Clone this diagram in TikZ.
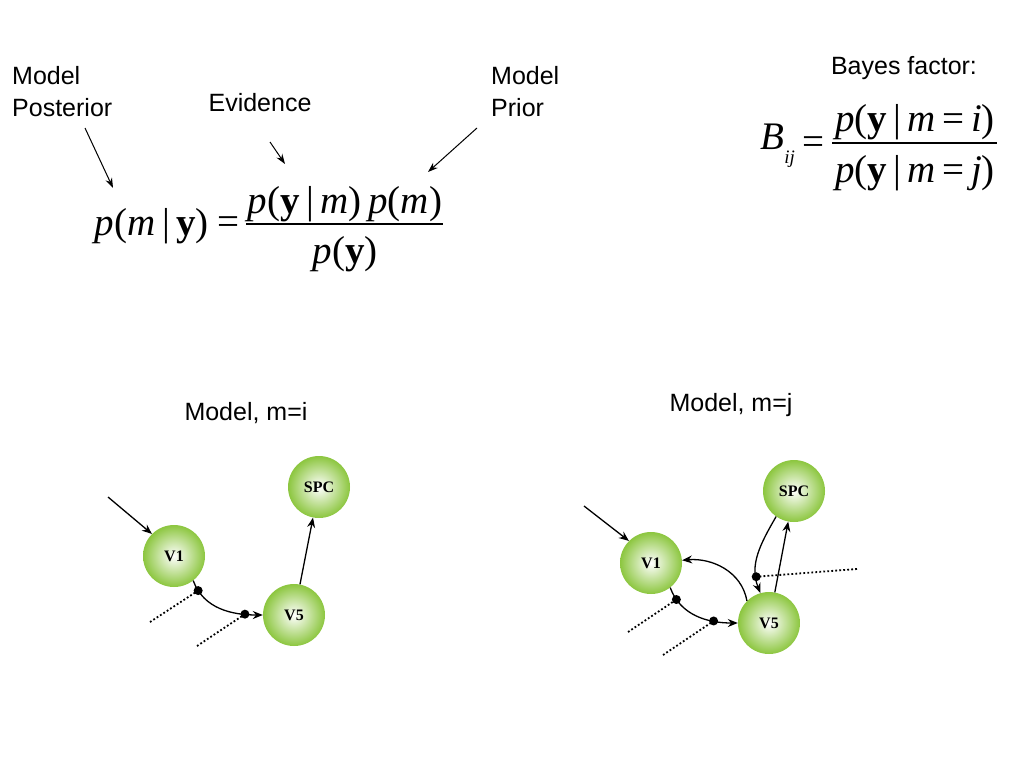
\documentclass[tikz,border=0pt]{standalone}
\usepackage{fontspec}
\setmainfont{Liberation Serif}
\newfontfamily\arial{Liberation Sans}
\usetikzlibrary{arrows.meta}
\definecolor{ballgreen}{RGB}{140,198,63}
\newcommand\vbar{\,\textup{|}\,}
\tikzset{
 lab/.style={font=\arial\fontsize{25}{32}\selectfont, inner sep=0pt, align=left},
 eqn/.style={font=\fontsize{39}{44}\selectfont, inner sep=0pt},
 ball/.style={circle, minimum size=62pt, inner sep=0pt, inner color=white, outer color=ballgreen, font=\bfseries\fontsize{16}{18}\selectfont},
 arr/.style={-{Stealth[length=10pt,width=8pt]}, line width=1.3pt},
 larr/.style={-{Stealth[length=10pt,width=7pt]}, line width=1pt},
 dotl/.style={line width=1.8pt, dash pattern=on 1.8pt off 2.2pt},
 junc/.style={circle, fill=black, minimum size=9pt, inner sep=0pt},
 fracline/.style={line width=1.5pt},
}
\begin{document}
\begin{tikzpicture}[x=1pt,y=-1pt]
\fill[white] (0,0) rectangle (1024,768);
\useasboundingbox (0,0) rectangle (1024,768);

% labels top-left
\node[lab, anchor=west] (post) at (12,92) {Model\\Posterior};
\node[lab] (evid) at (260,103) {Evidence};
\node[lab, anchor=west] (prior) at (491,92) {Model\\Prior};
\coordinate (posttip) at (113,188);
\coordinate (evidtip) at (285,164);
\coordinate (priortip) at (428,172);
\draw[larr] (85,128) -- (posttip);
\draw[larr] (270,142) -- (evidtip);
\draw[larr] (477,128) -- (priortip);

% Bayes rule
\node[eqn, anchor=east] (lhs) at (209,226) {\textit{p}(\textit{m}\vbar\textbf{y})};
\node[eqn] (eq1) at (228,226) {=};
\draw[fracline] (246,224) -- (443,224);
\node[eqn] (num) at (345,204) {\textit{p}(\textbf{y}\vbar\textit{m})\,\textit{p}(\textit{m})};
\node[eqn] (den) at (345,254) {\textit{p}(\textbf{y})};

% Bayes factor
\node[lab] (bf) at (904,68) {Bayes factor:};
\node[eqn, anchor=east] (bij) at (795,146) {\textit{B}\raisebox{-0.35em}{\fontsize{19}{21}\selectfont\textit{ij}}};
\node[eqn] (eq2) at (813,146) {=};
\draw[fracline] (832,143) -- (997,143);
\node[eqn] (num2) at (915,122) {\textit{p}(\textbf{y}\vbar\textit{m}\,=\,\textit{i})};
\node[eqn] (den2) at (915,173) {\textit{p}(\textbf{y}\vbar\textit{m}\,=\,\textit{j})};

% Model m=i
\node[lab] (ti) at (246,413) {Model, m=i};
\node[ball] (v1) at (174,556) {V1};
\node[ball] (v5) at (294,615) {V5};
\node[ball] (spc) at (319,487) {SPC};
\coordinate (ina) at (108,497);
\draw[arr] (ina) -- (v1.135);
\draw[arr] (v1.-52) to[out=-70,in=180] node[junc,pos=0.13] (j1) {} node[junc,pos=0.8] (j2) {} (v5.180);
\draw[arr] (v5) -- (spc);
\coordinate (d1) at (150,622);
\coordinate (d2) at (197,646);
\draw[dotl] (d1) -- (j1.center);
\draw[dotl] (d2) -- (j2.center);

% Model m=j
\node[lab] (tj) at (731,405) {Model, m=j};
\node[ball] (w1) at (651,563) {V1};
\node[ball] (w5) at (769,623) {V5};
\node[ball] (wspc) at (794,491) {SPC};
\coordinate (inb) at (584,506);
\draw[arr] (inb) -- (w1.135);
\draw[arr] (w1.-52) to[out=-70,in=180] node[junc,pos=0.16] (j3) {} node[junc,pos=0.72] (j4) {} (w5.180);
\draw[arr] (w5.135) to[out=100,in=5] (w1.5);
\draw[arr] (w5) -- (wspc);
\draw[arr] (wspc.-125) to[out=-120,in=112] node[junc,pos=0.8] (j5) {} (w5.106);
\coordinate (d3) at (628,632);
\coordinate (d4) at (663,655);
\coordinate (d5) at (857,569);
\draw[dotl] (d3) -- (j3.center);
\draw[dotl] (d4) -- (j4.center);
\draw[dotl] (d5) -- (j5.center);
\end{tikzpicture}
\end{document}
